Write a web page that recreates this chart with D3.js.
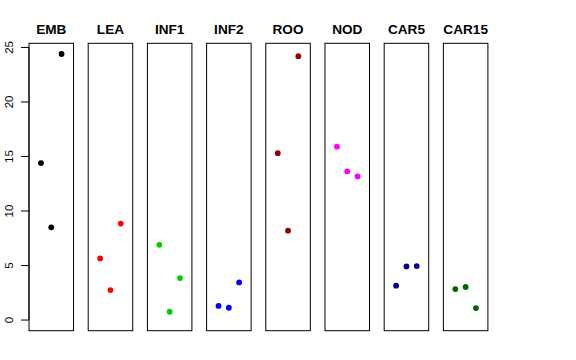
<!DOCTYPE html>
<html><head><meta charset="utf-8">
<script src="https://cdn.jsdelivr.net/npm/d3@7"></script>
<style>body{margin:0;background:#fff}svg{display:block}</style>
</head><body><svg id="c" width="576" height="360"></svg>
<script>
const categories = ["EMB","LEA","INF1","INF2","ROO","NOD","CAR5","CAR15"];
const colors = ["#000000","#FF0000","#00CD00","#0000FF","#8B0000","#FF00FF","#00008B","#006400"];
const replicate = [1,2,3];
const values = [
  [14.4, 8.5, 24.4],
  [5.65, 2.75, 8.85],
  [6.9, 0.76, 3.85],
  [1.3, 1.13, 3.45],
  [15.3, 8.2, 24.2],
  [15.9, 13.63, 13.17],
  [3.15, 4.92, 4.95],
  [2.84, 3.03, 1.1]
];
const yTicks = [0,5,10,15,20,25];

const svg = d3.select("#c");
const font = "'Liberation Sans', Arial, Helvetica, sans-serif";
const plotTop = 43.3, plotBottom = 330.7;
const panel = d3.scaleBand().domain(categories).range([29, 487.9]).paddingInner(0.248).paddingOuter(0);
const y = d3.scaleLinear().domain([-0.976, 25.38]).range([plotBottom, plotTop]);
const x = d3.scaleLinear().domain([-0.16, 4.16]).range([0, panel.bandwidth()]);

categories.forEach((cat, i) => {
  const g = svg.append("g").attr("transform", `translate(${panel(cat)},0)`);
  g.append("rect").attr("x", 0).attr("y", plotTop).attr("width", panel.bandwidth()).attr("height", plotBottom - plotTop)
    .attr("fill", "none").attr("stroke", "#000").attr("stroke-width", 1);
  g.append("text").attr("x", panel.bandwidth()/2).attr("y", 33.5).attr("text-anchor", "middle")
    .attr("font-family", font).attr("font-weight", "bold").attr("font-size", "13.6px").attr("fill", "#000").text(cat);
  g.selectAll("circle").data(values[i]).enter().append("circle")
    .attr("cx", (d, j) => x(replicate[j])).attr("cy", d => y(d)).attr("r", 2.9).attr("fill", colors[i]);
});

// y axis
const axisX = panel(categories[0]);
const ax = svg.append("g").attr("transform", `translate(${axisX},0)`);
ax.append("line").attr("x1", 0).attr("x2", 0).attr("y1", y(0)).attr("y2", y(25)).attr("stroke", "#000");
yTicks.forEach(t => {
  ax.append("line").attr("x1", -8).attr("x2", 0).attr("y1", y(t)).attr("y2", y(t)).attr("stroke", "#000");
  ax.append("text").attr("transform", `translate(-15.8,${y(t)}) rotate(-90)`).attr("text-anchor", "middle")
    .attr("font-family", font).attr("font-size", "11.5px").attr("fill", "#000").text(t);
});
</script></body></html>
